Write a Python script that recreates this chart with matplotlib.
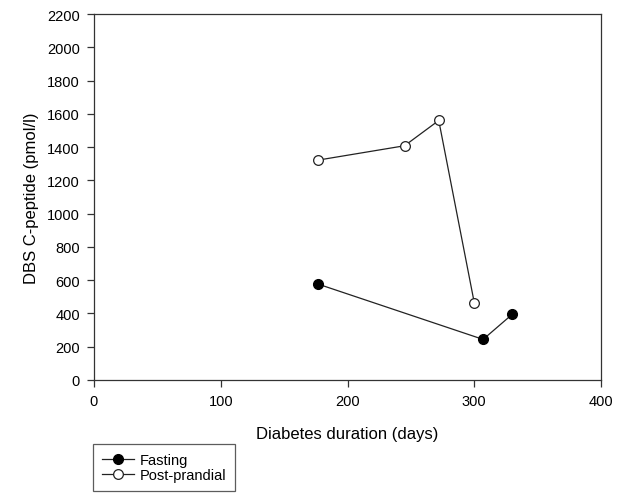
import matplotlib

matplotlib.use("Agg")
import matplotlib.pyplot as plt

plt.rcParams["font.family"] = ["Liberation Sans", "DejaVu Sans"]

# days since diagnosis vs dried blood spot C-peptide
fasting_days = [177, 307, 330]
fasting_cpep = [576, 244, 395]
postprandial_days = [177, 245, 272, 300]
postprandial_cpep = [1322, 1408, 1560, 465]

fig = plt.figure(figsize=(6.19, 5.02), dpi=100)
ax = fig.add_axes([94 / 619, 1 - 381 / 502, 507 / 619, 366 / 502])

ax.plot(fasting_days, fasting_cpep, color="#222222", lw=0.9, marker="o",
        ms=7, mfc="black", mec="black", label="Fasting")
ax.plot(postprandial_days, postprandial_cpep, color="#222222", lw=0.9, marker="o",
        ms=7, mfc="white", mec="#222222", mew=0.9, label="Post-prandial")

ax.set_xlim(0, 400)
ax.set_ylim(0, 2200)
ax.set_xticks(range(0, 401, 100))
ax.set_yticks(range(0, 2201, 200))
ax.tick_params(direction="out", length=5, width=0.9, labelsize=10.5, color="#333333",
               pad=5)
for s in ax.spines.values():
    s.set_linewidth(0.9)
    s.set_color("#333333")

ax.set_xlabel("Diabetes duration (days)", fontsize=12, labelpad=13)
ax.set_ylabel("DBS C-peptide (pmol/l)", fontsize=12, labelpad=6)

leg = fig.legend(loc="upper left", bbox_to_anchor=(93 / 619, 1 - 445 / 502),
                 borderaxespad=0, fontsize=10.5, frameon=True, fancybox=False,
                 handlelength=2.2, handletextpad=0.4, borderpad=0.6,
                 labelspacing=0.1)
leg.get_frame().set_edgecolor("#333333")
leg.get_frame().set_linewidth(0.9)

fig.savefig("out.png", dpi=100)
